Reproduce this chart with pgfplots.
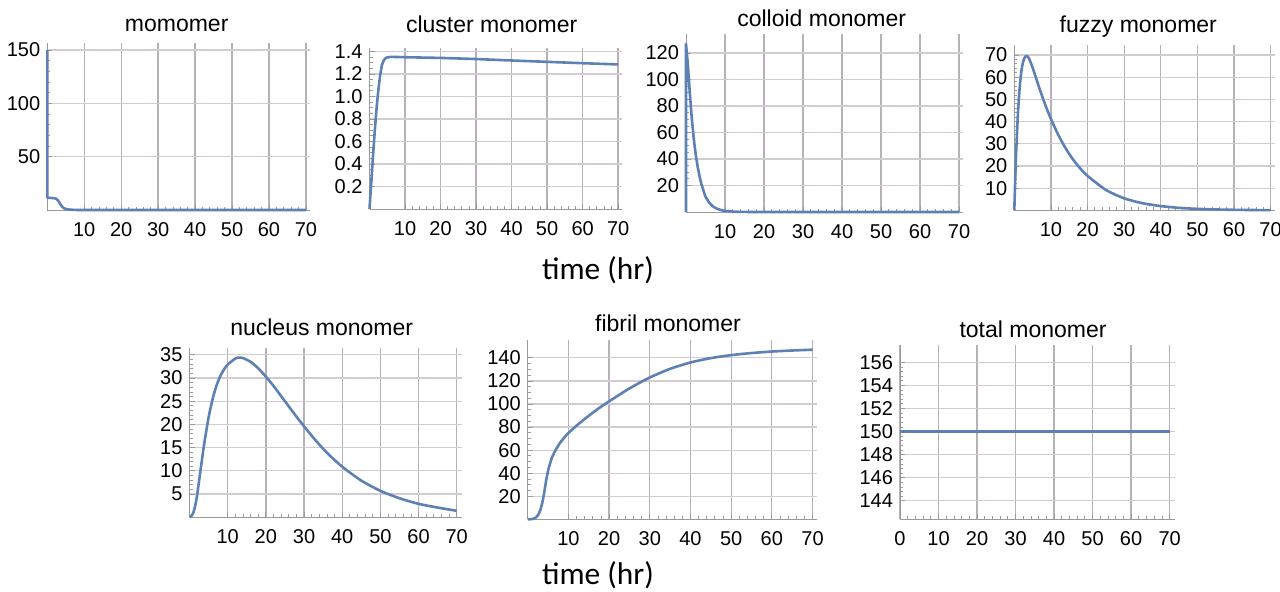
\documentclass[border=0pt]{standalone}
\usepackage{fontspec}
\setmainfont{Liberation Sans}
\newfontfamily\calibri{Carlito}
\usepackage{pgfplots}
\pgfplotsset{compat=1.18}

\definecolor{mblue}{HTML}{5E81B5}
\definecolor{xgrid}{HTML}{B8B0B8}
\definecolor{ygrid}{HTML}{D2CCD2}
\definecolor{axgray}{HTML}{9A9A9A}

\pgfplotsset{
  mma/.style={
    scale only axis, anchor=south west,
    axis lines=left, axis line style={-, axgray, line width=0.5pt},
    tick align=inside, tick style={axgray, line width=0.4pt},
    major tick length=2.5pt, minor tick length=1.5pt,
    grid=major,
    major x grid style={color=xgrid, line width=0.65pt},
    major y grid style={color=ygrid, line width=0.6pt},
    tick label style={font=\fontsize{10}{11}\selectfont},
    xticklabel style={yshift=-2.5pt},
    /pgf/number format/assume math mode=true,
    xmin=0, xtick={10,20,...,70}, minor x tick num=4,
    ymin=0, clip=false,
  },
  curve/.style={line width=1.3pt, color=mblue, mark=none, line join=round},
}

\begin{document}
\begin{tikzpicture}
\useasboundingbox (0,0) rectangle (640pt,-295.5pt);

% momomer
\begin{axis}[mma, at={(23.65pt,-105pt)}, width=131.35pt, height=83.5pt,
  xmax=71.1, ymax=156.6, ytick={50,100,150}, minor y tick num=4]
\addplot[curve] coordinates {(0,150) (0.03,11.5) (0.5,11.4) (1,11.3) (1.5,11.2) (2,11) (2.5,10.4)
  (3,8.5) (3.5,5.6) (4,3.1) (4.5,1.7) (5,1.0) (6,0.4) (7,0.15) (8,0.05) (10,0.02) (20,0) (70,0)};
\end{axis}

% cluster monomer
\begin{axis}[mma, at={(184.75pt,-104.5pt)}, width=126.1pt, height=80.5pt,
  xmax=71, ymax=1.431, ytick={0.2,0.4,...,1.4},
  yticklabels={0.2,0.4,0.6,0.8,1.0,1.2,1.4}, minor y tick num=3]
\addplot[curve] coordinates {(0,0) (0.5,0.24) (1,0.48) (1.5,0.7) (2,0.9) (2.5,1.06) (3,1.19)
  (3.5,1.28) (4,1.32) (4.5,1.34) (5,1.348) (6,1.352) (8,1.351) (10,1.349) (20,1.343)
  (30,1.333) (40,1.32) (50,1.308) (60,1.296) (70,1.285)};
\end{axis}

% colloid monomer
\begin{axis}[mma, at={(343pt,-106pt)}, width=138.5pt, height=89pt,
  xmax=71, ymax=134.4, ytick={20,40,...,120}, minor y tick num=3]
\addplot[curve] coordinates {(0,0) (0.01,127) (0.5,110) (1,89) (1.5,70) (2,55) (2.5,43) (3,34)
  (3.5,26.5) (4,20.5) (5,11.5) (6,6.8) (7,4) (8,2.4) (9,1.4) (10,0.8) (12,0.3)
  (14,0.1) (16,0.04) (20,0) (70,0)};
\end{axis}

% fuzzy monomer
\begin{axis}[mma, at={(507.15pt,-105.15pt)}, width=130.35pt, height=82.65pt,
  xmax=71.2, ymax=74.5, ytick={10,20,...,70}, minor y tick num=4]
\addplot[curve, smooth, tension=0.4] coordinates {(0,0) (0.25,14) (0.5,26) (1,44) (1.5,56) (2,63.5) (2.5,67.5) (3,69.3)
  (3.5,69.5) (4,68.5) (5,64.3) (6,59.3) (7,54.3) (8,49.6) (9,45.2) (10,41.2) (12,34.0)
  (14,28.0) (16,23.0) (18,18.9) (20,15.5) (25,9.2) (30,5.4) (35,3.2) (40,1.9) (45,1.1)
  (50,0.65) (55,0.38) (60,0.22) (65,0.13) (70,0.08)};
\end{axis}

% nucleus monomer
\begin{axis}[mma, at={(94.75pt,-258.65pt)}, width=136.1pt, height=84.5pt,
  xmax=71.3, ymax=36.4, ytick={5,10,...,35}, minor y tick num=4]
\addplot[curve, smooth, tension=0.4] coordinates {(0,0) (0.5,0.3) (1,1) (1.5,2.5) (2,4.8) (2.5,7.8) (3,10.8) (3.5,13.8)
  (4,16.6) (5,21.5) (6,25.3) (7,28.2) (8,30.3) (9,31.8) (10,32.9) (12,34.2) (13,34.4)
  (14,34.3) (16,33.5) (18,32.1) (20,30.3) (22,28.3) (25,25.0) (28,21.7) (30,19.6) (33,16.6)
  (36,13.9) (40,10.9) (45,7.9) (50,5.7) (55,4.1) (60,2.9) (65,2.1) (70,1.4)};
\end{axis}

% fibril monomer
\begin{axis}[mma, at={(263.85pt,-259.65pt)}, width=144.65pt, height=89.65pt,
  xmax=71.1, ymax=155.5, ytick={20,40,...,140}, minor y tick num=3]
\addplot[curve, smooth, tension=0.4] coordinates {(0,0) (1,0.2) (1.5,0.6) (2,1.5) (2.5,3.5) (3,7) (3.5,13) (4,22)
  (4.5,33) (5,42) (5.5,48.5) (6,54) (7,61) (8,66.5) (9,71) (10,74.8) (12,81.2) (14,87)
  (16,92.5) (18,97.6) (20,102.3) (25,113.5) (30,123) (35,130.5) (40,136) (45,139.8)
  (50,142.4) (55,144.2) (60,145.5) (65,146.4) (70,147.1)};
\end{axis}

% total monomer
\begin{axis}[mma, at={(450pt,-259.65pt)}, width=137.5pt, height=87.15pt,
  xtick={0,10,...,70}, xmax=71.4, ymin=142.4, ymax=157.5,
  ytick={144,146,...,156}, minor y tick num=4]
\addplot[curve] coordinates {(0,150) (70,150)};
\end{axis}

\begin{scope}[x=0.5pt, y=-0.5pt, every node/.style={anchor=base, inner sep=0pt, font=\fontsize{11.5}{12}\selectfont}]
\node at (176.7,31.5) {momomer};
\node at (491.7,32.3) {cluster monomer};
\node at (821.7,26.7) {colloid monomer};
\node at (1138.3,32.3) {fuzzy monomer};
\node at (321.7,335) {nucleus monomer};
\node at (668,331.7) {fibril monomer};
\node at (1033,337.3) {total monomer};
\node[font=\calibri\fontsize{15.7}{17}\selectfont, anchor=center] at (598,270) {time (hr)};
\node[font=\calibri\fontsize{15.7}{17}\selectfont, anchor=center] at (598,575) {time (hr)};
\end{scope}
\end{tikzpicture}
\end{document}
